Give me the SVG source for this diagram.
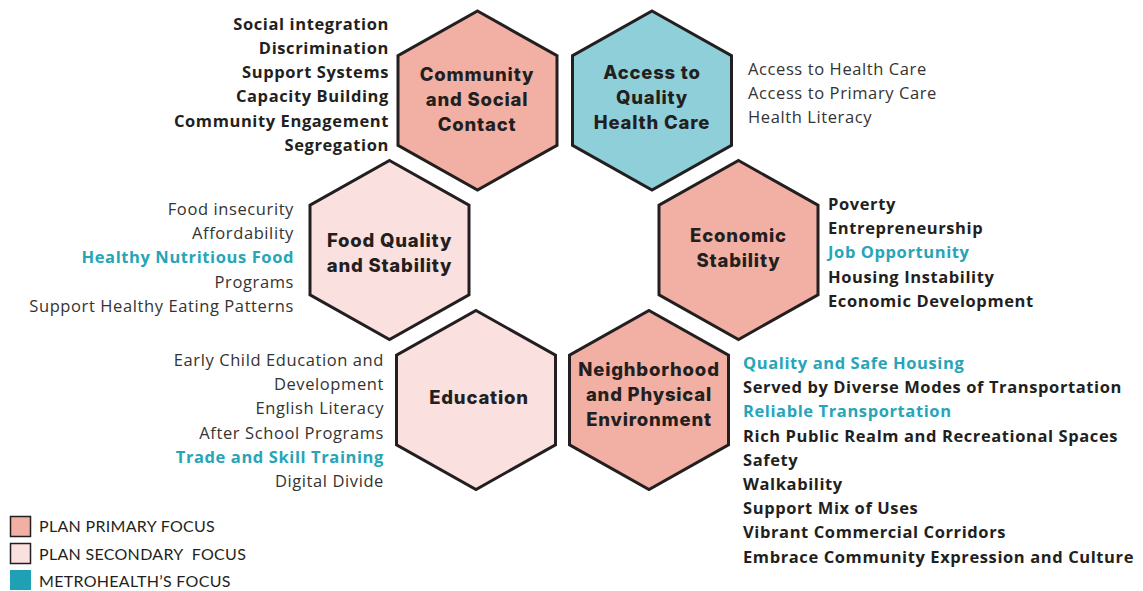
<svg xmlns="http://www.w3.org/2000/svg" width="1143" height="591" viewBox="0 0 1143 591">
<defs>
<style>
.hex{stroke:#231f20;stroke-width:3;stroke-linejoin:miter}
.p{fill:#f2b0a4}
.s{fill:#fbe0e0}
.t{fill:#8ecfd9}
.hl{font-family:Inter,"Liberation Sans",sans-serif;font-weight:800;font-size:18.5px;fill:#231f20;text-anchor:middle;letter-spacing:0.8px}
.it{font-family:"Open Sans","Liberation Sans",sans-serif;font-size:16.5px;fill:#333;letter-spacing:0.6px}
.b{font-weight:700;fill:#231f20}
.tl{fill:#26a5b8;font-weight:700}
.r{text-anchor:end}
.lg{font-family:Lato,"Liberation Sans",sans-serif;font-size:16px;fill:#231f20;letter-spacing:0.3px;white-space:pre}
</style>
<polygon id="hexshape" points="0,-89.5 79.5,-44.75 79.5,44.75 0,89.5 -79.5,44.75 -79.5,-44.75"/>
</defs>
<rect width="1143" height="591" fill="#fff"/>
<g id="connectors"/>
<g id="community">
<use href="#hexshape" x="477.5" y="100.5" class="hex p"/>
<text class="hl"><tspan x="477" y="81">Community</tspan><tspan x="477" y="106">and Social</tspan><tspan x="477" y="131">Contact</tspan></text>
<text class="it b r"><tspan x="389" y="30">Social integration</tspan><tspan x="389" y="54">Discrimination</tspan><tspan x="389" y="78.2">Support Systems</tspan><tspan x="389" y="102.4">Capacity Building</tspan><tspan x="389" y="126.6">Community Engagement</tspan><tspan x="389" y="150.8">Segregation</tspan></text>
</g>
<g id="access">
<use href="#hexshape" x="652" y="100.5" class="hex t"/>
<text class="hl"><tspan x="652" y="79">Access to</tspan><tspan x="652" y="104">Quality</tspan><tspan x="652" y="129">Health Care</tspan></text>
<text class="it"><tspan x="748" y="75">Access to Health Care</tspan><tspan x="748" y="99">Access to Primary Care</tspan><tspan x="748" y="123">Health Literacy</tspan></text>
</g>
<g id="food">
<use href="#hexshape" x="389.5" y="250" class="hex s"/>
<text class="hl"><tspan x="389.5" y="247">Food Quality</tspan><tspan x="389.5" y="272">and Stability</tspan></text>
<text class="it r"><tspan x="294" y="215">Food insecurity</tspan><tspan x="294" y="239.2">Affordability</tspan><tspan x="294" y="263.4" class="tl">Healthy Nutritious Food</tspan><tspan x="294" y="287.6">Programs</tspan><tspan x="294" y="311.8">Support Healthy Eating Patterns</tspan></text>
</g>
<g id="economic">
<use href="#hexshape" x="738.5" y="250" class="hex p"/>
<text class="hl"><tspan x="738.5" y="242">Economic</tspan><tspan x="738.5" y="267">Stability</tspan></text>
<text class="it b"><tspan x="828" y="210">Poverty</tspan><tspan x="828" y="234.2">Entrepreneurship</tspan><tspan x="828" y="258.4" class="tl">Job Opportunity</tspan><tspan x="828" y="282.6">Housing Instability</tspan><tspan x="828" y="306.8">Economic Development</tspan></text>
</g>
<g id="education">
<use href="#hexshape" x="476" y="400" class="hex s"/>
<text class="hl"><tspan x="479" y="404">Education</tspan></text>
<text class="it r"><tspan x="384" y="366">Early Child Education and</tspan><tspan x="384" y="390.2">Development</tspan><tspan x="384" y="414.4">English Literacy</tspan><tspan x="384" y="438.6">After School Programs</tspan><tspan x="384" y="462.8" class="tl">Trade and Skill Training</tspan><tspan x="384" y="487">Digital Divide</tspan></text>
</g>
<g id="neighborhood">
<use href="#hexshape" x="649" y="400" class="hex p"/>
<text class="hl"><tspan x="649" y="376">Neighborhood</tspan><tspan x="649" y="401">and Physical</tspan><tspan x="649" y="426">Environment</tspan></text>
<text class="it b"><tspan x="743" y="369" class="tl">Quality and Safe Housing</tspan><tspan x="743" y="393.2">Served by Diverse Modes of Transportation</tspan><tspan x="743" y="417.4" class="tl">Reliable Transportation</tspan><tspan x="743" y="441.6">Rich Public Realm and Recreational Spaces</tspan><tspan x="743" y="465.8">Safety</tspan><tspan x="743" y="490">Walkability</tspan><tspan x="743" y="514.2">Support Mix of Uses</tspan><tspan x="743" y="538.4">Vibrant Commercial Corridors</tspan><tspan x="743" y="562.6">Embrace Community Expression and Culture</tspan></text>
</g>
<g id="legend">
<rect x="10.5" y="516.5" width="20" height="20" fill="#f2b0a4" stroke="#231f20" stroke-width="1.5"/>
<rect x="10.5" y="543.5" width="20" height="20" fill="#fbe0e0" stroke="#231f20" stroke-width="1.5"/>
<rect x="10" y="570" width="21" height="20" fill="#1fa0b5"/>
<text class="lg" x="39" y="531.5">PLAN PRIMARY FOCUS</text>
<text class="lg" x="39" y="559.5">PLAN SECONDARY  FOCUS</text>
<text class="lg" x="39" y="586.5">METROHEALTH’S FOCUS</text>
</g>
</svg>
